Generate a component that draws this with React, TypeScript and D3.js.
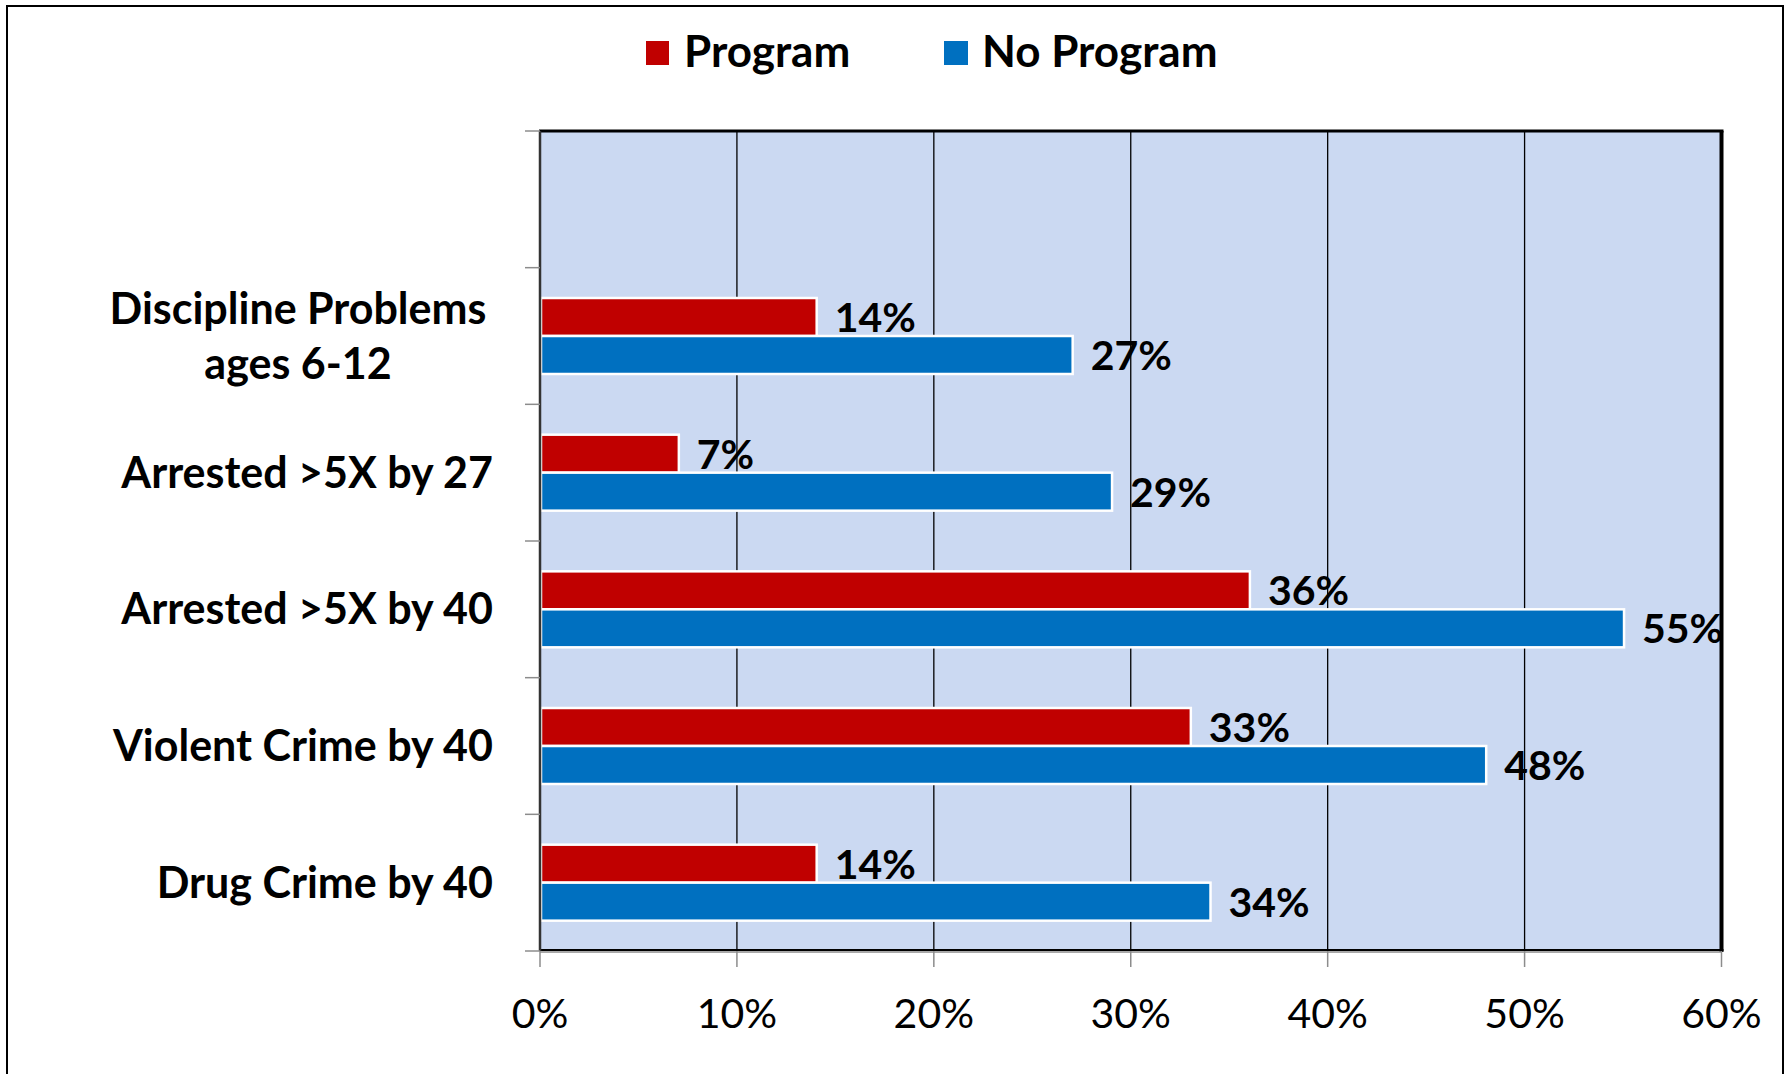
import * as d3 from 'd3';

const W = 1790;
const H = 1074;
const PLOT = { left: 540, right: 1721.5, top: 131, bottom: 951 };

// top row of the category axis is blank in the original sheet
const categories = [
  '',
  'Discipline Problems\nages 6-12',
  'Arrested >5X by 27',
  'Arrested >5X by 40',
  'Violent Crime by 40',
  'Drug Crime by 40',
];
const seriesNames = ['Program', 'No Program'];
const programValues = [null, 14, 7, 36, 33, 14];
const noProgramValues = [null, 27, 29, 55, 48, 34];
const xTicks = [0, 10, 20, 30, 40, 50, 60];

const COLORS: Record<string, string> = { Program: '#C00000', 'No Program': '#0070C0' };
const FONT = 'Lato, "Open Sans", sans-serif';

export default function App() {
  const x = d3.scaleLinear().domain([0, 60]).range([PLOT.left, PLOT.right]);
  const y = d3.scaleBand<string>().domain(categories).range([PLOT.top, PLOT.bottom]).padding(0);
  const bw = y.bandwidth();
  const inner = d3
    .scaleBand<string>()
    .domain(seriesNames)
    .range([bw * 0.222, bw * 0.778])
    .padding(0);

  const values: Record<string, (number | null)[]> = {
    Program: programValues,
    'No Program': noProgramValues,
  };

  const boundaries = [...categories.map((c) => y(c) as number), PLOT.bottom];

  return (
    <svg width={W} height={H} style={{ position: 'absolute', left: 0, top: 0, background: '#fff' }}>
      {/* outer chart frame */}
      <rect x={7} y={6} width={1776} height={H + 20} fill="#fff" stroke="#000" strokeWidth={2} />

      {/* legend */}
      <g fontFamily={FONT} fontWeight="bold" fontSize={44}>
        <rect x={646} y={41} width={23} height={24} fill={COLORS.Program} />
        <text x={684} y={67}>Program</text>
        <rect x={944} y={41} width={24} height={24} fill={COLORS['No Program']} />
        <text x={982} y={67}>No Program</text>
      </g>

      {/* plot area */}
      <rect
        x={PLOT.left}
        y={PLOT.top}
        width={PLOT.right - PLOT.left}
        height={PLOT.bottom - PLOT.top}
        fill="#CBD9F2"
      />
      {xTicks.slice(1, -1).map((t) => (
        <line key={t} x1={x(t)} x2={x(t)} y1={PLOT.top} y2={PLOT.bottom} stroke="#000" strokeWidth={1.3} />
      ))}
      <line x1={PLOT.left - 1} x2={PLOT.right + 2} y1={PLOT.top} y2={PLOT.top} stroke="#000" strokeWidth={3} />
      <line x1={PLOT.right} x2={PLOT.right} y1={PLOT.top} y2={PLOT.bottom + 1} stroke="#000" strokeWidth={4} />
      <line x1={PLOT.left} x2={PLOT.right + 2} y1={PLOT.bottom - 1} y2={PLOT.bottom - 1} stroke="#000" strokeWidth={2} />

      {/* bars */}
      {categories.map((c, i) =>
        seriesNames.map((s) => {
          const v = values[s][i];
          if (v == null) return null;
          const top = (y(c) as number) + (inner(s) as number);
          const h = inner.bandwidth();
          return (
            <g key={c + s}>
              <rect
                x={x(0) + 1}
                y={top}
                width={x(v) - x(0)}
                height={h}
                fill={COLORS[s]}
                stroke="#fff"
                strokeWidth={2.5}
              />
              <text
                x={x(v) + 19}
                y={top + h / 2 + 15}
                fontFamily={FONT}
                fontWeight="bold"
                fontSize={41}
                fill="#000"
              >
                {v}%
              </text>
            </g>
          );
        })
      )}

      {/* value (x) axis */}
      <line x1={PLOT.left} x2={PLOT.right} y1={PLOT.bottom + 1} y2={PLOT.bottom + 1} stroke="#8c8c8c" strokeWidth={1.5} />
      {xTicks.map((t) => (
        <g key={t}>
          <line x1={x(t)} x2={x(t)} y1={PLOT.bottom} y2={PLOT.bottom + 16} stroke="#8c8c8c" strokeWidth={1.5} />
          <text x={x(t)} y={1028} textAnchor="middle" fontFamily={FONT} fontSize={41} fill="#000">
            {t}%
          </text>
        </g>
      ))}

      {/* category (y) axis */}
      <line x1={PLOT.left} x2={PLOT.left} y1={PLOT.top} y2={PLOT.bottom} stroke="#333" strokeWidth={2.5} />
      {boundaries.map((b, i) => (
        <line key={i} x1={PLOT.left - 15} x2={PLOT.left} y1={b} y2={b} stroke="#8c8c8c" strokeWidth={1.5} />
      ))}
      {categories.map((c) => {
        const lines = c.split('\n');
        const multi = lines.length > 1;
        const mid = (y(c) as number) + bw / 2;
        const lh = 55;
        return (
          <text
            key={c}
            textAnchor={multi ? 'middle' : 'end'}
            fontFamily={FONT}
            fontWeight="bold"
            fontSize={43}
            fill="#000"
          >
            {lines.map((ln, j) => (
              <tspan key={j} x={multi ? 298 : 493} y={mid + 15 + (j - (lines.length - 1) / 2) * lh}>
                {ln}
              </tspan>
            ))}
          </text>
        );
      })}
    </svg>
  );
}
